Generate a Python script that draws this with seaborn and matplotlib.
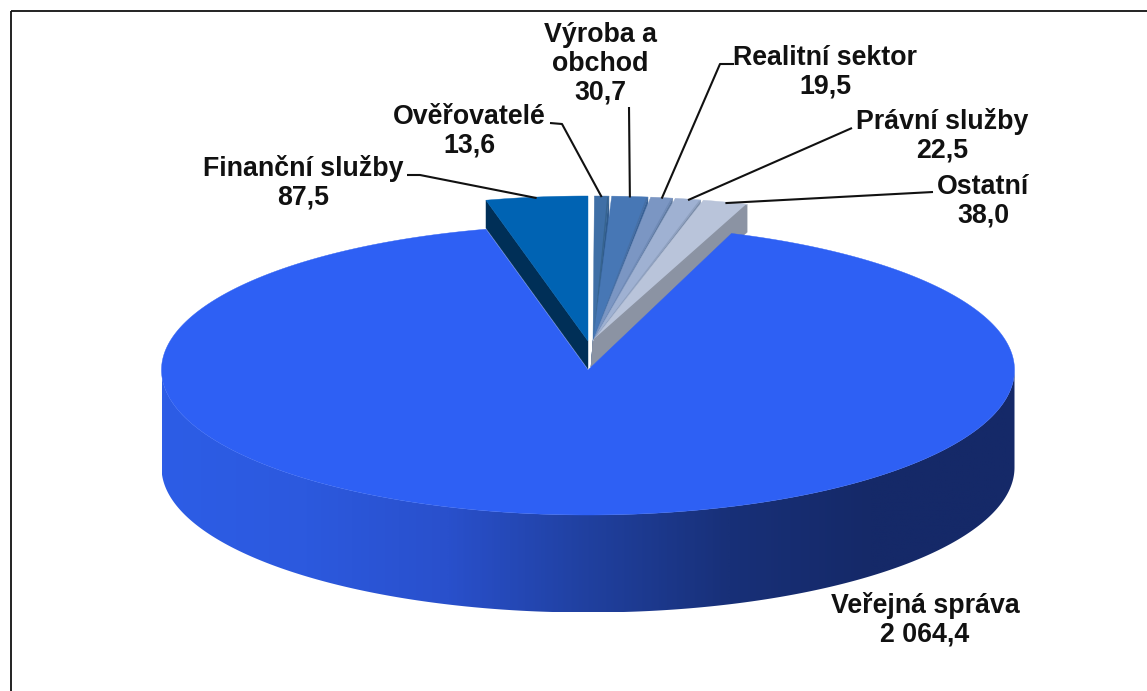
import numpy as np
import matplotlib
matplotlib.use("Agg")
import matplotlib.pyplot as plt
from matplotlib.patches import Polygon
import seaborn as sns

# ---------- data ----------
categories = ["Ověřovatelé", "Výroba a\nobchod", "Realitní sektor", "Právní služby",
              "Ostatní", "Veřejná správa", "Finanční služby"]
values = [13.6, 30.7, 19.5, 22.5, 38.0, 2064.4, 87.5]
value_labels = ["13,6", "30,7", "19,5", "22,5", "38,0", "2 064,4", "87,5"]
top_colors = ["#3F6FA6", "#4777B5", "#7B96C3", "#9FB1D2", "#B9C4DA", "#2E60F4", "#0063B3"]
wall_colors = ["#2F5A8C", "#3A6296", "#5F7AA0", "#7A8CA8", "#8B93A3", "#152968", "#002F57"]
strip_colors = ["#36638F", "#466FA5", "#6F8AB6", "#8FA1C0", "#8B93A3"]

# ---------- layout (pixels) ----------
W, H = 1147, 691
CX, CY = 588, 370          # main pie apex
RX, RY = 426.5, 145
DEPTH = 97.5
BACK_DY = 29               # detached slices are pushed back
WALL = 28
RIGHT_CX = 593
RIGHT_RX = 462
LEFT_CX = 588
label_pos = [(469, 131), (600, 64), (825, 72), (942, 136), (983, 201), (925, 620), (303, 183)]
leader_start = [(550, 123), (629, 107), (734, 64), (852, 128), (933, 192), None, (407, 175)]
leader_knee = [(562, 124), None, (720, 64), None, None, None, (420, 175)]

sns.set_theme(style="white")
plt.rcParams["font.family"] = ["Liberation Sans", "DejaVu Sans"]

fig = plt.figure(figsize=(W / 100, H / 100), dpi=100, facecolor="white")
ax = fig.add_axes([0, 0, 1, 1])
ax.set_axis_off()

vals = np.array(values)
edges = np.concatenate([[0], np.cumsum(vals)]) / vals.sum() * 2 * np.pi
IDX_BIG = categories.index("Veřejná správa")
IDX_FIN = categories.index("Finanční služby")


def arc(cx, cy, rx, ry, a0, a1, n=200):
    t = np.linspace(a0, a1, n)
    return np.column_stack([cx + rx * np.sin(t), cy - ry * np.cos(t)])


def poly(pts, color, z, **kw):
    p = Polygon(pts, closed=True, facecolor=color, edgecolor=color, lw=0.3, zorder=z, **kw)
    ax.add_patch(p)
    return p


# --- detached small slices on the right ---
top_y = CY - BACK_DY
mid_pts = {}
for i in range(IDX_BIG):
    a0, a1 = edges[i], edges[i + 1]
    gap = 0.003
    top = np.vstack([[RIGHT_CX, top_y], arc(RIGHT_CX, top_y, RIGHT_RX, RY, a0 + gap, a1 - gap, 40)])
    r_outer = top[-1]
    wall = np.array([[RIGHT_CX, top_y], r_outer, r_outer + [0, WALL], [RIGHT_CX - 2, top_y + WALL - 2]])
    poly(wall, wall_colors[i], 2 + i * 0.1)
    poly(top, top_colors[i], 2.05 + i * 0.1)
    ax.plot([RIGHT_CX + 1, r_outer[0] - 1], [top_y - 1, r_outer[1] + 1],
            color=strip_colors[i], lw=1.1, zorder=2.06 + i * 0.1, solid_capstyle="butt")
    m = (a0 + a1) / 2
    mid_pts[i] = (RIGHT_CX + RIGHT_RX * np.sin(m), top_y - RY * np.cos(m))

# --- detached slice on the left ---
a0, a1 = edges[IDX_FIN], 2 * np.pi
fin_arc = arc(LEFT_CX, top_y, RX, RY, a0, a1, 40)
poly(np.vstack([[LEFT_CX, top_y], fin_arc[0], fin_arc[0] + [0, WALL], [LEFT_CX, top_y + WALL]]),
     wall_colors[IDX_FIN], 2)
poly(np.vstack([[LEFT_CX, top_y], fin_arc]), top_colors[IDX_FIN], 2.1)
m = (a0 + a1) / 2
mid_pts[IDX_FIN] = (LEFT_CX + RX * np.sin(m), top_y - RY * np.cos(m))

# --- main pie: wall with horizontal gradient, then top ---
a0, a1 = edges[IDX_BIG], edges[IDX_BIG + 1]
front = arc(CX, CY, RX, RY, np.pi / 2, 3 * np.pi / 2, 400)
wall_shape = np.vstack([front, (front + [0, DEPTH])[::-1]])
clip = Polygon(wall_shape, closed=True, transform=ax.transData, facecolor="none", edgecolor="none")
ax.add_patch(clip)
grad = np.array(sns.blend_palette(["#2D5DE6", "#2C59DE", "#2950CC", "#20409F", "#183078",
                                   "#152968", "#152968"], 400))[None, :, :]
im = ax.imshow(grad, extent=[CX - RX, CX + RX, CY + RY + DEPTH, CY], aspect="auto", zorder=3,
               interpolation="bilinear")
im.set_clip_path(clip)
poly(np.vstack([[CX, CY], arc(CX, CY, RX, RY, a0, a1, 500)]), top_colors[IDX_BIG], 4)

# --- frame ---
ax.plot([11, 11], [H, 11], color="#111111", lw=1.3, zorder=6, solid_capstyle="butt")
ax.plot([11, W], [11, 11], color="#111111", lw=1.3, zorder=6, solid_capstyle="butt")

# --- labels and leaders ---
for i, (name, vl) in enumerate(zip(categories, value_labels)):
    x, y = label_pos[i]
    ax.text(x, y, f"{name}\n{vl}", ha="center", va="center", fontsize=19.3, fontweight="bold",
            color="#111111", linespacing=1.13, zorder=8)
    if leader_start[i] is not None:
        xs, ys = [leader_start[i][0]], [leader_start[i][1]]
        if leader_knee[i] is not None:
            xs.append(leader_knee[i][0])
            ys.append(leader_knee[i][1])
        xs.append(mid_pts[i][0])
        ys.append(mid_pts[i][1] + 1)
        ax.plot(xs, ys, color="#111111", lw=1.5, zorder=7, solid_capstyle="butt")

ax.set_xlim(0, W)
ax.set_ylim(H, 0)
fig.savefig("out.png", dpi=100, facecolor="white")
